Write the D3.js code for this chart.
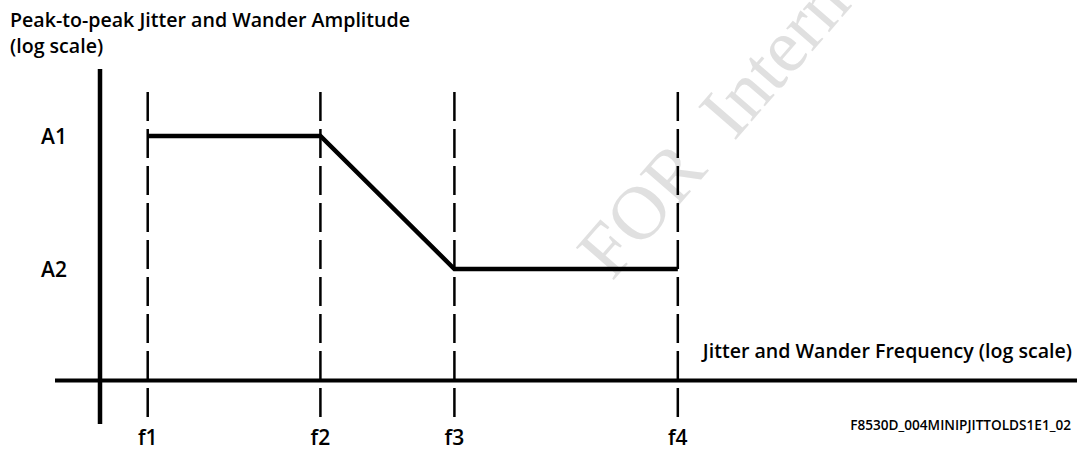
<!DOCTYPE html>
<html>
<head>
<meta charset="utf-8">
<script src="https://cdn.jsdelivr.net/npm/d3@7"></script>
<style>
  body { margin: 0; background: #fff; }
  svg { display: block; }
  text { font-family: "Open Sans", "Liberation Sans", sans-serif; font-weight: 600; fill: #000; }
</style>
</head>
<body>
<svg id="plot"></svg>
<script>
// Corner frequencies of the mask (arbitrary units, log axis)
const freqLabels = ["f1", "f2", "f3", "f4"];
const freqValues = [3, 160, 3500, 600000];

// Amplitude levels (arbitrary units, log axis)
const ampLabels = ["A1", "A2"];
const ampValues = [1, 0.1];

// Mask shape: which freq/amp pair each corner uses
const maskFreq = [3, 160, 3500, 600000];
const maskAmp = [1, 1, 0.1, 0.1];

const width = 1084;
const height = 450;

const svg = d3.select("#plot")
  .attr("width", width)
  .attr("height", height);

// Scales: 100 px per decade on x, 133 px per decade on y
const x = d3.scaleLog().domain([1, 1e9]).range([100, 1000]);
const y = d3.scaleLog().domain([0.01, 1]).range([402, 136]);

const axisY = 380.5;

// Watermark
svg.append("text")
  .attr("transform", "translate(612,282) rotate(-49)")
  .style("font-family", "'Liberation Serif', 'DejaVu Serif', serif")
  .style("font-weight", "400")
  .style("font-size", "76px")
  .style("fill", "#e0e0e0")
  .attr("xml:space", "preserve")
  .text("FOR  Internal");

// Dashed guide lines at each corner frequency
svg.selectAll(".guide")
  .data(freqValues)
  .enter()
  .append("line")
  .attr("class", "guide")
  .attr("x1", d => x(d))
  .attr("x2", d => x(d))
  .attr("y1", 92)
  .attr("y2", 417)
  .attr("stroke", "#000")
  .attr("stroke-width", 2.5)
  .attr("stroke-dasharray", "29 8");

// Axes
svg.append("line")
  .attr("x1", 55).attr("x2", 1077)
  .attr("y1", axisY).attr("y2", axisY)
  .attr("stroke", "#000").attr("stroke-width", 4);

svg.append("line")
  .attr("x1", x(1)).attr("x2", x(1))
  .attr("y1", 69).attr("y2", 424)
  .attr("stroke", "#000").attr("stroke-width", 4.5);

// The mask itself
const line = d3.line()
  .x(d => x(d[0]))
  .y(d => y(d[1]));

svg.append("path")
  .datum(d3.zip(maskFreq, maskAmp))
  .attr("d", line)
  .attr("fill", "none")
  .attr("stroke", "#000")
  .attr("stroke-width", 4.5)
  .attr("stroke-linejoin", "miter");

// Frequency labels
svg.selectAll(".flabel")
  .data(freqLabels)
  .enter()
  .append("text")
  .attr("class", "flabel")
  .attr("x", (d, i) => x(freqValues[i]))
  .attr("y", 445)
  .attr("text-anchor", "middle")
  .style("font-size", "21px")
  .text(d => d);

// Amplitude labels
svg.selectAll(".alabel")
  .data(ampLabels)
  .enter()
  .append("text")
  .attr("class", "alabel")
  .attr("x", 41)
  .attr("y", (d, i) => y(ampValues[i]) + 8)
  .style("font-size", "21px")
  .text(d => d);

// Titles
svg.append("text")
  .attr("x", 10).attr("y", 27)
  .style("font-size", "19.6px")
  .text("Peak-to-peak Jitter and Wander Amplitude");

svg.append("text")
  .attr("x", 10).attr("y", 53)
  .style("font-size", "19.6px")
  .text("(log scale)");

svg.append("text")
  .attr("x", 1072).attr("y", 358)
  .attr("text-anchor", "end")
  .style("font-size", "19.6px")
  .text("Jitter and Wander Frequency (log scale)");

svg.append("text")
  .attr("x", 1071).attr("y", 430)
  .attr("text-anchor", "end")
  .style("font-size", "13.6px")
  .text("F8530D_004MINIPJITTOLDS1E1_02");
</script>
</body>
</html>
